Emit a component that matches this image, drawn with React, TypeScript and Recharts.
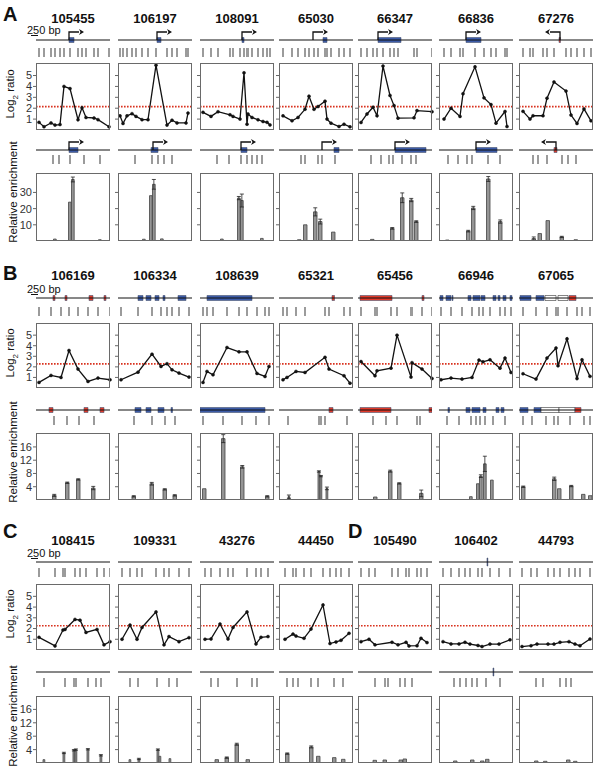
import React from "react";
import {
  ComposedChart,
  LineChart,
  BarChart,
  Line,
  Bar,
  Scatter,
  XAxis,
  YAxis,
  ReferenceLine,
  ReferenceArea,
  ErrorBar,
} from "recharts";

type Exon = [number, number, string];
type Tss = [number, number] | null;

// ---- A ----
const aNames = ["105455", "106197", "108091", "65030", "66347", "66836", "67276"];
const aProbeX = [
  [3, 8, 15, 19, 24, 28, 34, 42, 46, 50, 58, 62, 73],
  [2, 5, 9, 14, 18, 24, 30, 38, 49, 54, 59, 68, 70],
  [3, 11, 18, 30, 33, 40, 44, 47, 48, 52, 58, 63, 67, 70],
  [4, 13, 19, 26, 30, 35, 39, 46, 48, 52, 60, 65, 71],
  [3, 9, 15, 19, 25, 32, 36, 40, 56, 59, 74],
  [5, 12, 21, 24, 36, 45, 52, 57, 66, 68],
  [4, 11, 14, 24, 28, 35, 47, 52, 58, 65, 72],
];
const aLog = [
  [0.7, 0.3, 0.65, 0.45, 0.5, 4.0, 3.8, 0.95, 2.05, 1.15, 1.1, 0.95, 0.3],
  [1.3, 0.6, 1.3, 1.5, 1.25, 0.95, 0.95, 5.95, 0.45, 0.9, 0.65, 0.65, 1.55],
  [1.62, 1.25, 1.68, 1.4, 1.25, 1.0, 5.25, 0.53, 1.47, 1.15, 0.94, 0.78, 0.7, 0.47],
  [1.3, 0.85, 1.15, 1.9, 3.1, 1.9, 2.15, 2.65, 1.0, 0.63, 0.32, 0.53, 0.29],
  [0.69, 1.47, 2.09, 1.31, 5.87, 3.17, 2.24, 1.09, 1.12, 1.78, 1.68],
  [1.0, 2.0, 1.25, 3.33, 5.8, 2.95, 2.33, 0.63, 1.7, 0.32],
  [1.71, 1.0, 1.31, 1.31, 2.92, 4.41, 3.57, 1.37, 0.6, 1.93, 0.84],
];
const aGene1: Exon[][] = [
  [[33, 38, "plus"]], [[39, 43, "plus"]], [[42, 44, "plus"]], [[44, 48, "plus"]],
  [[20, 43, "plus"]], [[27, 42, "plus"]], [[40, 41.5, "minus"]],
];
const aTss1: Tss[] = [[33, 1], [39, 1], [42, 1], [34, 1], [20, 1], [27, 1], [41, -1]];
const aGene2: Exon[][] = [
  [[33, 42, "plus"]], [[33, 40, "plus"]], [[41, 47, "plus"]], [[55, 60, "plus"]],
  [[37, 68, "plus"]], [[37, 58, "plus"]], [[35, 38, "minus"]],
];
const aTss2: Tss[] = [[33, 1], [35, 1], [41, 1], [43, 1], [37, 1], [37, 1], [37, -1]];
const aTick2 = [
  [17, 23, 34, 48, 64], [17, 34, 40, 46, 54], [17, 29, 41, 47, 52, 57, 62], [22, 26, 39, 43, 56],
  [13, 23, 31, 35, 44, 53, 58], [9, 19, 28, 33, 49, 61], [14, 19, 28, 43, 49, 57],
];
const aBarX = [
  [19, 34, 37, 64], [26, 33, 36, 44], [22, 39, 42, 62], [20, 26, 36, 41, 54],
  [14, 34, 44, 53, 58], [8, 29, 34, 49, 61], [15, 21, 29, 43, 57],
];
const aBarV = [
  [1.2, 24, 38, 0.8], [1.1, 28, 35, 1.3], [1.2, 26.5, 25, 1.6], [0.8, 10, 18, 12, 5.5],
  [1, 7.8, 26.7, 25.3, 12], [0.6, 6.1, 20.4, 38.3, 12], [1.5, 4.6, 12.6, 2.5, 0.8],
];
const aBarE = [
  [0, 0, 1.5, 0], [0, 0, 3, 0], [0, 1, 4, 0], [0, 0, 2.5, 1.5, 0],
  [0, 0.5, 3, 1, 0.5], [0, 0.5, 1, 1.5, 1], [1, 0, 0, 0.4, 0],
];

// ---- B ----
const bNames = ["106169", "106334", "108639", "65321", "65456", "66946", "67065"];
const bProbeX = [
  [3, 15, 25, 33, 42, 52, 62, 74],
  [3, 20, 34, 43, 49, 54, 61, 71],
  [3, 7, 13, 27, 39, 47, 57, 65, 69],
  [4, 8, 17, 26, 46, 50, 65, 71],
  [3, 17, 19, 33, 39, 53, 54, 64, 74],
  [2, 12, 23, 33, 40, 44, 51, 61, 66, 72],
  [4, 17, 28, 37, 39, 48, 58, 63, 71],
];
const bLog = [
  [0.53, 1.19, 1.0, 3.55, 1.79, 0.62, 0.94, 0.78],
  [0.78, 1.5, 3.2, 2.04, 2.3, 1.72, 1.41, 1.03],
  [0.53, 1.57, 1.25, 3.83, 3.42, 3.42, 1.38, 1.09, 2.04],
  [0.78, 1.0, 1.57, 1.47, 2.9, 1.79, 1.16, 0.46],
  [2.5, 1.16, 1.63, 1.88, 5.0, 1.03, 2.4, 1.79, 0.9],
  [0.78, 0.94, 0.84, 1.0, 2.64, 2.48, 2.67, 1.88, 2.83, 1.47],
  [1.35, 0.84, 2.83, 3.78, 2.1, 4.65, 0.9, 2.67, 1.1],
];
const bGene1: Exon[][] = [
  [[17, 19, "minus"], [29, 31, "minus"], [53, 57, "minus"], [68, 70, "minus"]],
  [[20, 25, "plus"], [28, 33, "plus"], [37, 41, "plus"], [45, 47, "plus"], [60, 68, "plus"]],
  [[7, 52, "plus"]],
  [[53, 55.5, "minus"]],
  [[2, 34, "minus"], [64, 66, "minus"]],
  [[1, 4, "plus"], [7, 12, "plus"], [13, 14, "plus"], [29, 32, "plus"], [34, 41, "plus"],
   [42, 46, "plus"], [54, 57, "plus"], [59, 61, "plus"], [64, 67, "plus"], [71, 73, "plus"]],
  [[1, 12, "plus"], [17, 25, "plus"], [26, 37, "open"], [39, 49, "open"], [50, 57, "minus"]],
];
const bGene2: Exon[][] = [
  [[13, 17, "minus"], [48, 52, "minus"], [64, 68, "minus"]],
  [[17, 23, "plus"], [28, 33, "plus"], [40, 46, "plus"], [53, 54.5, "plus"]],
  [[0, 65, "plus"]],
  [[50, 54, "minus"]],
  [[2, 33, "minus"], [71, 74, "minus"]],
  [[9, 10.5, "plus"], [27, 31, "plus"], [33, 41, "plus"], [44, 47, "plus"], [57, 60, "plus"], [62, 65, "plus"]],
  [[1, 9, "plus"], [15, 22, "plus"], [22, 40, "open"], [40, 56, "open"], [56, 62, "minus"]],
];
const bTick2 = [
  [18, 31, 43, 58], [16, 34, 47, 57], [3, 23, 42, 56, 69], [9, 40, 42, 46, 68],
  [15, 28, 39, 59, 62], [8, 20, 32, 37, 41, 46, 54, 66], [4, 13, 27, 35, 39, 51, 65, 71],
];
const bBarX = [
  [18, 31, 42, 57], [16, 34, 47, 57], [4, 23, 42, 67], [10, 40, 42, 48],
  [17, 32, 41, 63], [32, 39, 42, 46, 53], [4, 35, 40, 52, 64, 71],
];
const bBarV = [
  [1.4, 5.2, 6.2, 3.6], [1.1, 4.9, 3.2, 1.4], [3.4, 18.5, 10, 1.1], [1.0, 8.6, 7.2, 3.5],
  [0.9, 8.7, 5, 2], [1.0, 4.9, 7.2, 10.9, 6.0], [4, 6.4, 3.4, 4.2, 1.7, 1.3],
];
const bBarE = [
  [0.3, 0.2, 0.2, 0.5], [0.2, 0.4, 0.2, 0.2], [0, 1.2, 0.4, 0.2], [0.5, 0.2, 0.2, 0.4],
  [0, 0.3, 0.2, 1], [0, 0, 0.4, 2.3, 0], [0.2, 0.5, 0, 0.2, 0, 0],
];

// ---- C ----
const cNames = ["108415", "109331", "43276", "44450"];
const cProbeX = [
  [3, 19, 27, 29, 39, 44, 50, 61, 68, 74],
  [4, 12, 19, 24, 38, 46, 51, 61, 71],
  [5, 11, 20, 28, 33, 47, 56, 61, 68],
  [6, 14, 17, 25, 32, 44, 51, 57, 62, 70],
];
const cLog = [
  [1.18, 0.38, 1.86, 1.92, 2.85, 2.78, 1.64, 1.92, 0.48, 0.78],
  [1.0, 2.32, 1.0, 2.1, 3.55, 0.48, 1.25, 0.78, 1.15],
  [1.0, 1.03, 2.42, 1.03, 2.1, 3.55, 0.57, 1.18, 1.25],
  [1.0, 1.48, 1.3, 1.09, 1.95, 4.2, 0.6, 0.75, 0.9, 1.55],
];
const cTick2 = [
  [8, 29, 38, 40, 52, 60, 65], [12, 20, 39, 51, 59], [11, 18, 37, 52, 57], [8, 14, 19, 32, 39, 55, 64],
];
const cBarX = [[8, 28, 38, 40, 52, 65], [12, 21, 40, 42, 52], [17, 27, 37, 48], [8, 32, 39, 55, 64]];
const cBarV = [[1, 3, 3.8, 4, 4.1, 2.3], [1, 1.2, 4, 2, 1.3], [1, 1.6, 5.6, 1], [2.8, 4.8, 2, 1.6, 1.1]];
const cBarE = [[0, 0.2, 0.2, 0.2, 0.2, 0.2], [0, 0.2, 0.2, 0, 0], [0, 0.2, 0.3, 0], [0.2, 0.3, 0, 0, 0]];

// ---- D ----
const dNames = ["105490", "106402", "44793"];
const dProbeX = [
  [3, 11, 17, 34, 40, 48, 51, 59, 63, 69],
  [4, 12, 20, 26, 31, 39, 43, 51, 60, 71],
  [3, 12, 18, 29, 35, 41, 50, 56, 61, 71],
];
const dLog = [
  [0.78, 1.0, 0.48, 0.72, 0.48, 0.72, 0.38, 0.4, 1.09, 0.69],
  [0.78, 0.57, 0.57, 0.72, 0.55, 0.42, 0.32, 0.55, 0.55, 0.95],
  [0.32, 0.4, 0.55, 0.55, 0.55, 0.72, 0.78, 0.55, 0.4, 1.02],
];
const dGene1: Exon[][] = [[], [[48, 48.8, "mark"]], []];
const dGene2: Exon[][] = [[], [[54, 54.8, "mark"]], []];
const dTick2 = [[17, 27, 30, 42, 47, 54], [15, 21, 27, 33, 38, 47, 61], [17, 24, 41, 47, 52]];
const dBarX = [[17, 27, 43, 47], [16, 33, 43, 48], [17, 26, 49, 56]];
const dBarV = [[0.8, 0.9, 0.9, 1.2], [0.6, 0.9, 0.6, 1.1], [0.6, 0.5, 0.9, 0.5]];
const dBarE = [[0, 0, 0, 0], [0, 0, 0, 0], [0, 0, 0, 0]];

const logTicks = [1, 2, 3, 4, 5];

// ---- layout ----
const COLS = [36, 118, 200, 279, 358, 439, 519];
const BOX_W = 74;
const TRACK_H = 32;
const GENE = 12;
const FONT = "'Liberation Sans', Arial, sans-serif";

const EXON_FILL: Record<string, string> = {
  plus: "#3d5ca9",
  minus: "#e33b2b",
  open: "#ffffff",
  mark: "#22326e",
};

type Sec = {
  title: number; t1: number; k1: number; b1: number; h1: number;
  t2: number; k2: number; b2: number; h2: number;
  thr: number; barMax: number; barTicks: number[];
};

const secA: Sec = { title: 19, t1: 28, k1: 8, b1: 63, h1: 67, t2: 138, k2: 5, b2: 173, h2: 68, thr: 2.15, barMax: 42, barTicks: [10, 20, 30] };
const secB: Sec = { title: 276, t1: 286, k1: 9, b1: 323, h1: 65, t2: 398, k2: 6, b2: 433, h2: 67, thr: 2.28, barMax: 20.2, barTicks: [4, 8, 12, 16] };
const secC: Sec = { title: 541, t1: 550, k1: 6, b1: 584, h1: 66, t2: 660, k2: 6, b2: 696, h2: 67, thr: 2.26, barMax: 20, barTicks: [4, 8, 12, 16] };

const ProbeTick = (p: any) => (
  <rect x={p.cx - 1} y={p.cy} width={2} height={9} fill="#9b9b9b" />
);

const TssArrow = (p: any) => {
  const d = p.payload.d;
  const top = p.cy - 8;
  const end = p.cx + d * 10;
  return (
    <g>
      <path d={`M${p.cx},${p.cy}V${top}H${end}`} fill="none" stroke="#111" strokeWidth={1.3} />
      <path d={`M${end + d * 5},${top}L${end},${top - 3}L${end + d * 1.5},${top}L${end},${top + 3}Z`} fill="#111" />
    </g>
  );
};

function Track({ left, top, probes, exons, tss, tickOff }: any) {
  const tickData = probes.map((x: number) => ({ x, y: GENE + tickOff }));
  const tssData = tss ? [{ x: tss[0], y: GENE, d: tss[1] }] : [];
  return (
    <div style={{ position: "absolute", left, top }}>
      <ComposedChart width={BOX_W} height={TRACK_H} margin={{ top: 0, right: 0, bottom: 0, left: 0 }}>
        <XAxis type="number" dataKey="x" domain={[0, BOX_W]} hide allowDataOverflow />
        <YAxis type="number" dataKey="y" domain={[0, TRACK_H]} reversed hide allowDataOverflow />
        <ReferenceLine y={GENE} stroke="#111" strokeWidth={1} />
        {exons.map((e: Exon, i: number) => (
          <ReferenceArea
            key={i}
            x1={e[0]}
            x2={e[1]}
            y1={GENE - (e[2] === "mark" ? 4 : 2.5)}
            y2={GENE + (e[2] === "mark" ? 4 : 2.5)}
            fill={EXON_FILL[e[2]]}
            fillOpacity={1}
            stroke={e[2] === "open" ? "#333" : "#4a5570"}
            strokeWidth={0.6}
          />
        ))}
        <Scatter data={tickData} shape={ProbeTick} isAnimationActive={false} />
        <Scatter data={tssData} shape={TssArrow} isAnimationActive={false} />
      </ComposedChart>
    </div>
  );
}

const tickStyle = { fontSize: 11, fill: "#333", fontFamily: FONT };

function LogBox({ left, top, h, probes, logs, thr, labels }: any) {
  const yw = labels ? 16 : 5;
  const data = probes.map((x: number, i: number) => ({ x, v: logs[i] }));
  return (
    <>
      <div style={{ position: "absolute", left: left - yw, top }}>
        <LineChart width={yw + BOX_W + 2} height={h} data={data} margin={{ top: 0, right: 2, bottom: 0, left: 0 }}>
          <XAxis type="number" dataKey="x" domain={[0, BOX_W]} hide />
          <YAxis
            type="number"
            domain={[0, 6.15]}
            ticks={logTicks}
            interval={0}
            width={yw}
            axisLine={false}
            tickSize={3}
            tickMargin={1}
            tickLine={{ stroke: "#666" }}
            tick={tickStyle}
            tickFormatter={(v: number) => (labels ? String(v) : "")}
          />
          <ReferenceLine y={thr} stroke="#d9321f" strokeWidth={1.6} strokeDasharray="1.6 1.4" />
          <Line
            type="linear"
            dataKey="v"
            stroke="#111"
            strokeWidth={1.3}
            dot={{ r: 1.5, fill: "#111", stroke: "#111", strokeWidth: 0.5 }}
            isAnimationActive={false}
          />
        </LineChart>
      </div>
      <div style={{ position: "absolute", left, top, width: BOX_W, height: h, border: "1px solid #6a6a6a", boxSizing: "border-box", pointerEvents: "none" }} />
    </>
  );
}

function BarBox({ left, top, h, xs, vs, es, max, ticks, labels }: any) {
  const yw = labels ? 16 : 5;
  const data = xs.map((x: number, i: number) => ({ x, v: vs[i], e: es[i] }));
  return (
    <>
      <div style={{ position: "absolute", left: left - yw, top }}>
        <BarChart width={yw + BOX_W + 2} height={h} data={data} margin={{ top: 0, right: 2, bottom: 0, left: 0 }}>
          <XAxis type="number" dataKey="x" domain={[0, BOX_W]} hide />
          <YAxis
            type="number"
            domain={[0, max]}
            ticks={ticks}
            interval={0}
            width={yw}
            axisLine={false}
            tickSize={3}
            tickMargin={1}
            tickLine={{ stroke: "#666" }}
            tick={tickStyle}
            tickFormatter={(v: number) => (labels ? String(v) : "")}
          />
          <Bar dataKey="v" fill="#959595" stroke="#444" strokeWidth={0.8} barSize={3.5} isAnimationActive={false}>
            <ErrorBar dataKey="e" width={2} stroke="#222" strokeWidth={0.8} direction="y" />
          </Bar>
        </BarChart>
      </div>
      <div style={{ position: "absolute", left, top, width: BOX_W, height: h, border: "1px solid #6a6a6a", boxSizing: "border-box", pointerEvents: "none" }} />
    </>
  );
}

function Panel({ sec, col, name, probes, logs, gene1, tss1, gene2, tss2, tick2, barX, barV, barE, labels }: any) {
  const left = COLS[col];
  return (
    <>
      <div style={{ position: "absolute", left, top: sec.title - 8, width: BOX_W, textAlign: "center", fontWeight: "bold", fontSize: 13, lineHeight: "16px" }}>
        {name}
      </div>
      <Track left={left} top={sec.t1} probes={probes} exons={gene1} tss={tss1} tickOff={sec.k1} />
      <LogBox left={left} top={sec.b1} h={sec.h1} probes={probes} logs={logs} thr={sec.thr} labels={labels} />
      <Track left={left} top={sec.t2} probes={tick2} exons={gene2} tss={tss2} tickOff={sec.k2} />
      <BarBox left={left} top={sec.b2} h={sec.h2} xs={barX} vs={barV} es={barE} max={sec.barMax} ticks={sec.barTicks} labels={labels} />
    </>
  );
}

function SideLabel({ x, y, children }: any) {
  return (
    <div
      style={{
        position: "absolute",
        left: x,
        top: y,
        transform: "translate(-50%, -50%) rotate(-90deg)",
        whiteSpace: "nowrap",
        fontSize: 11.5,
        lineHeight: "14px",
      }}
    >
      {children}
    </div>
  );
}

function ScaleBar({ y }: { y: number }) {
  return (
    <div style={{ position: "absolute", left: 27, top: y, fontSize: 11, lineHeight: "12px" }}>
      250 bp
      <div style={{ position: "absolute", left: 4, top: 11, width: 7, height: 1, background: "#111" }} />
    </div>
  );
}

function Letter({ x, y, text }: any) {
  return (
    <div style={{ position: "absolute", left: x, top: y, fontWeight: "bold", fontSize: 20, lineHeight: "20px" }}>{text}</div>
  );
}

export default function App() {
  return (
    <div style={{ position: "absolute", left: 0, top: 0, width: 596, height: 773, background: "#fff", fontFamily: FONT, color: "#111", overflow: "hidden" }}>
      <Letter x={3} y={4} text="A" />
      <Letter x={3} y={263} text="B" />
      <Letter x={3} y={521} text="C" />
      <Letter x={348} y={521} text="D" />
      <ScaleBar y={24} />
      <ScaleBar y={283} />
      <ScaleBar y={547} />

      <SideLabel x={13} y={94}>Log<sub style={{ fontSize: 8 }}>2</sub> ratio</SideLabel>
      <SideLabel x={13} y={192}>Relative enrichment</SideLabel>
      <SideLabel x={13} y={353}>Log<sub style={{ fontSize: 8 }}>2</sub> ratio</SideLabel>
      <SideLabel x={13} y={452}>Relative enrichment</SideLabel>
      <SideLabel x={13} y={614}>Log<sub style={{ fontSize: 8 }}>2</sub> ratio</SideLabel>
      <SideLabel x={13} y={716}>Relative enrichment</SideLabel>

      {aNames.map((n, i) => (
        <Panel key={"a" + n} sec={secA} col={i} name={n} probes={aProbeX[i]} logs={aLog[i]}
          gene1={aGene1[i]} tss1={aTss1[i]} gene2={aGene2[i]} tss2={aTss2[i]} tick2={aTick2[i]}
          barX={aBarX[i]} barV={aBarV[i]} barE={aBarE[i]} labels={i === 0} />
      ))}
      {bNames.map((n, i) => (
        <Panel key={"b" + n} sec={secB} col={i} name={n} probes={bProbeX[i]} logs={bLog[i]}
          gene1={bGene1[i]} tss1={null} gene2={bGene2[i]} tss2={null} tick2={bTick2[i]}
          barX={bBarX[i]} barV={bBarV[i]} barE={bBarE[i]} labels={i === 0} />
      ))}
      {cNames.map((n, i) => (
        <Panel key={"c" + n} sec={secC} col={i} name={n} probes={cProbeX[i]} logs={cLog[i]}
          gene1={[]} tss1={null} gene2={[]} tss2={null} tick2={cTick2[i]}
          barX={cBarX[i]} barV={cBarV[i]} barE={cBarE[i]} labels={i === 0} />
      ))}
      {dNames.map((n, i) => (
        <Panel key={"d" + n} sec={secC} col={i + 4} name={n} probes={dProbeX[i]} logs={dLog[i]}
          gene1={dGene1[i]} tss1={null} gene2={dGene2[i]} tss2={null} tick2={dTick2[i]}
          barX={dBarX[i]} barV={dBarV[i]} barE={dBarE[i]} labels={false} />
      ))}
    </div>
  );
}
